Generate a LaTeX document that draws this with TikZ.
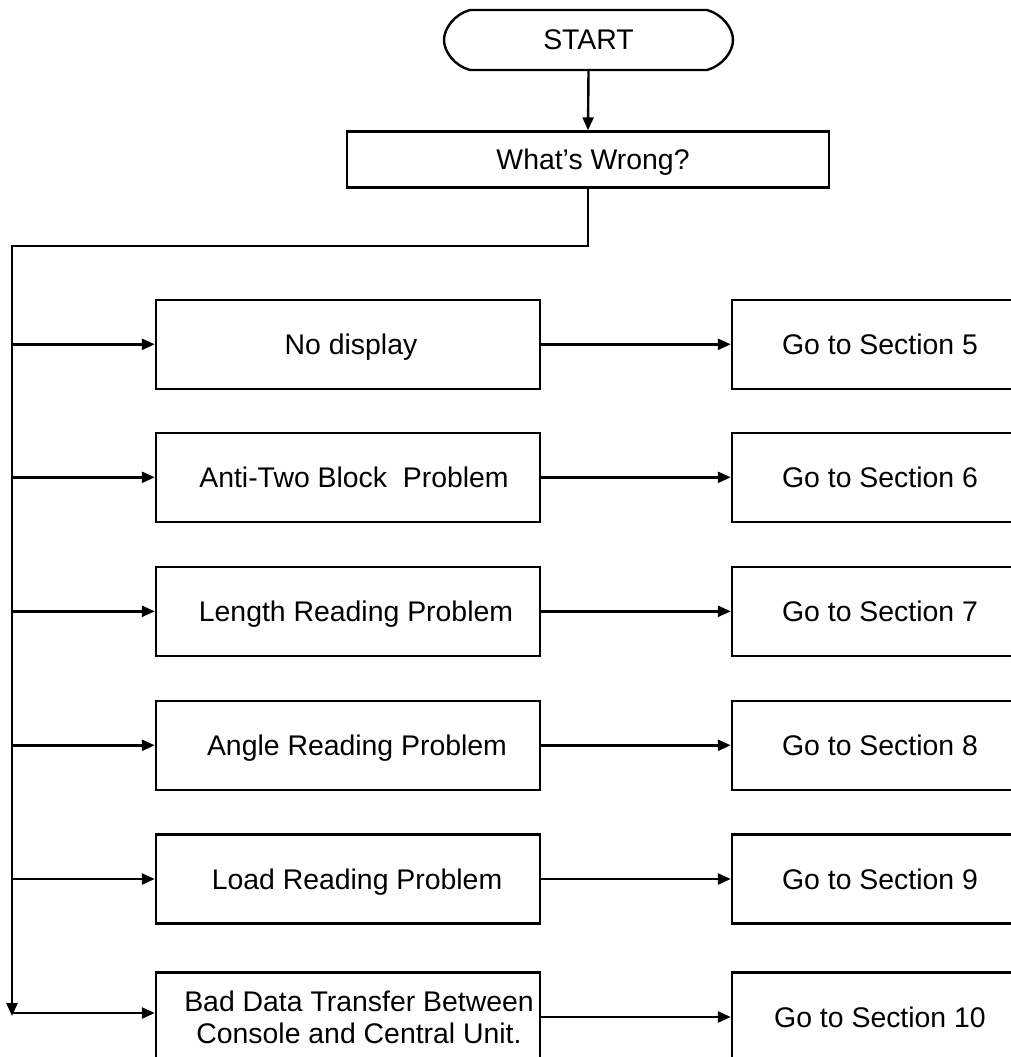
\documentclass[tikz,border=0pt]{standalone}
\usepackage{fontspec}
\setmainfont{Liberation Sans}
\usetikzlibrary{arrows.meta}
\begin{document}
\begin{tikzpicture}[x=1pt,y=-1pt,
  line width=2.4pt,
  txt/.style={font=\fontsize{28.4}{32}\selectfont, text depth=0pt},
  probbox/.style={draw, txt, minimum width=384pt, minimum height=89pt, inner sep=0pt, align=center},
  gobox/.style={draw, txt, minimum width=296pt, minimum height=89pt, inner sep=0pt, align=center},
  arr/.style={-{Triangle[length=13pt,width=11pt]}}
]
\useasboundingbox (0,0) rectangle (1011,1057);
\clip (0,0) rectangle (1011,1057);

% start terminal
\node[txt, minimum width=289pt, minimum height=60pt, inner sep=0pt] (start) at (588.5,40) {START};
\draw (470,10) -- (707,10) .. controls (722,14) and (733,28) .. (733,40)
      .. controls (733,52) and (722,66) .. (707,70) -- (470,70)
      .. controls (455,66) and (444,52) .. (444,40)
      .. controls (444,28) and (455,14) .. (470,10) -- cycle;

% question box
\node[draw, txt, minimum width=482pt, minimum height=56pt, inner sep=0pt] (wrong) at (588,159.5) {\hspace*{10pt}What’s Wrong?};
\draw[arr] (start.south) -- (wrong.north);

% problem boxes
\node[probbox] (p1) at (348,344.3) {\hspace*{6pt}No display};
\node[probbox] (p2) at (348,477.3) {\hspace*{12pt}Anti-Two Block~\ Problem};
\node[probbox] (p3) at (348,611.3) {\hspace*{16pt}Length Reading Problem};
\node[probbox] (p4) at (348,745.3) {\hspace*{18pt}Angle Reading Problem};
\node[probbox] (p5) at (348,879)   {\hspace*{18pt}Load Reading Problem};
\node[probbox] (p6) at (348,1017)  {\hspace*{22pt}Bad Data Transfer Between\\\hspace*{22pt}Console and Central Unit.};

% section boxes
\node[gobox] (g1) at (880,344.3) {Go to Section 5};
\node[gobox] (g2) at (880,477.3) {Go to Section 6};
\node[gobox] (g3) at (880,611.3) {Go to Section 7};
\node[gobox] (g4) at (880,745.3) {Go to Section 8};
\node[gobox] (g5) at (880,879)   {Go to Section 9};
\node[gobox] (g6) at (880,1017)  {Go to Section 10};

% trunk line
\coordinate (t1) at (12,246);
\coordinate (tend) at (12,1016);
\draw[arr] (wrong.south) -- (wrong.south |- t1) -- (t1) -- (tend);

% branches
\foreach \i/\y in {1/344.3,2/477.3,3/611.3,4/745.3,5/879,6/1013} {
  \coordinate (j\i) at (12,\y);
  \draw[arr] (j\i) -- (p\i.west |- j\i);
  \draw[arr] (p\i.east) -- (g\i.west);
}
\end{tikzpicture}
\end{document}
